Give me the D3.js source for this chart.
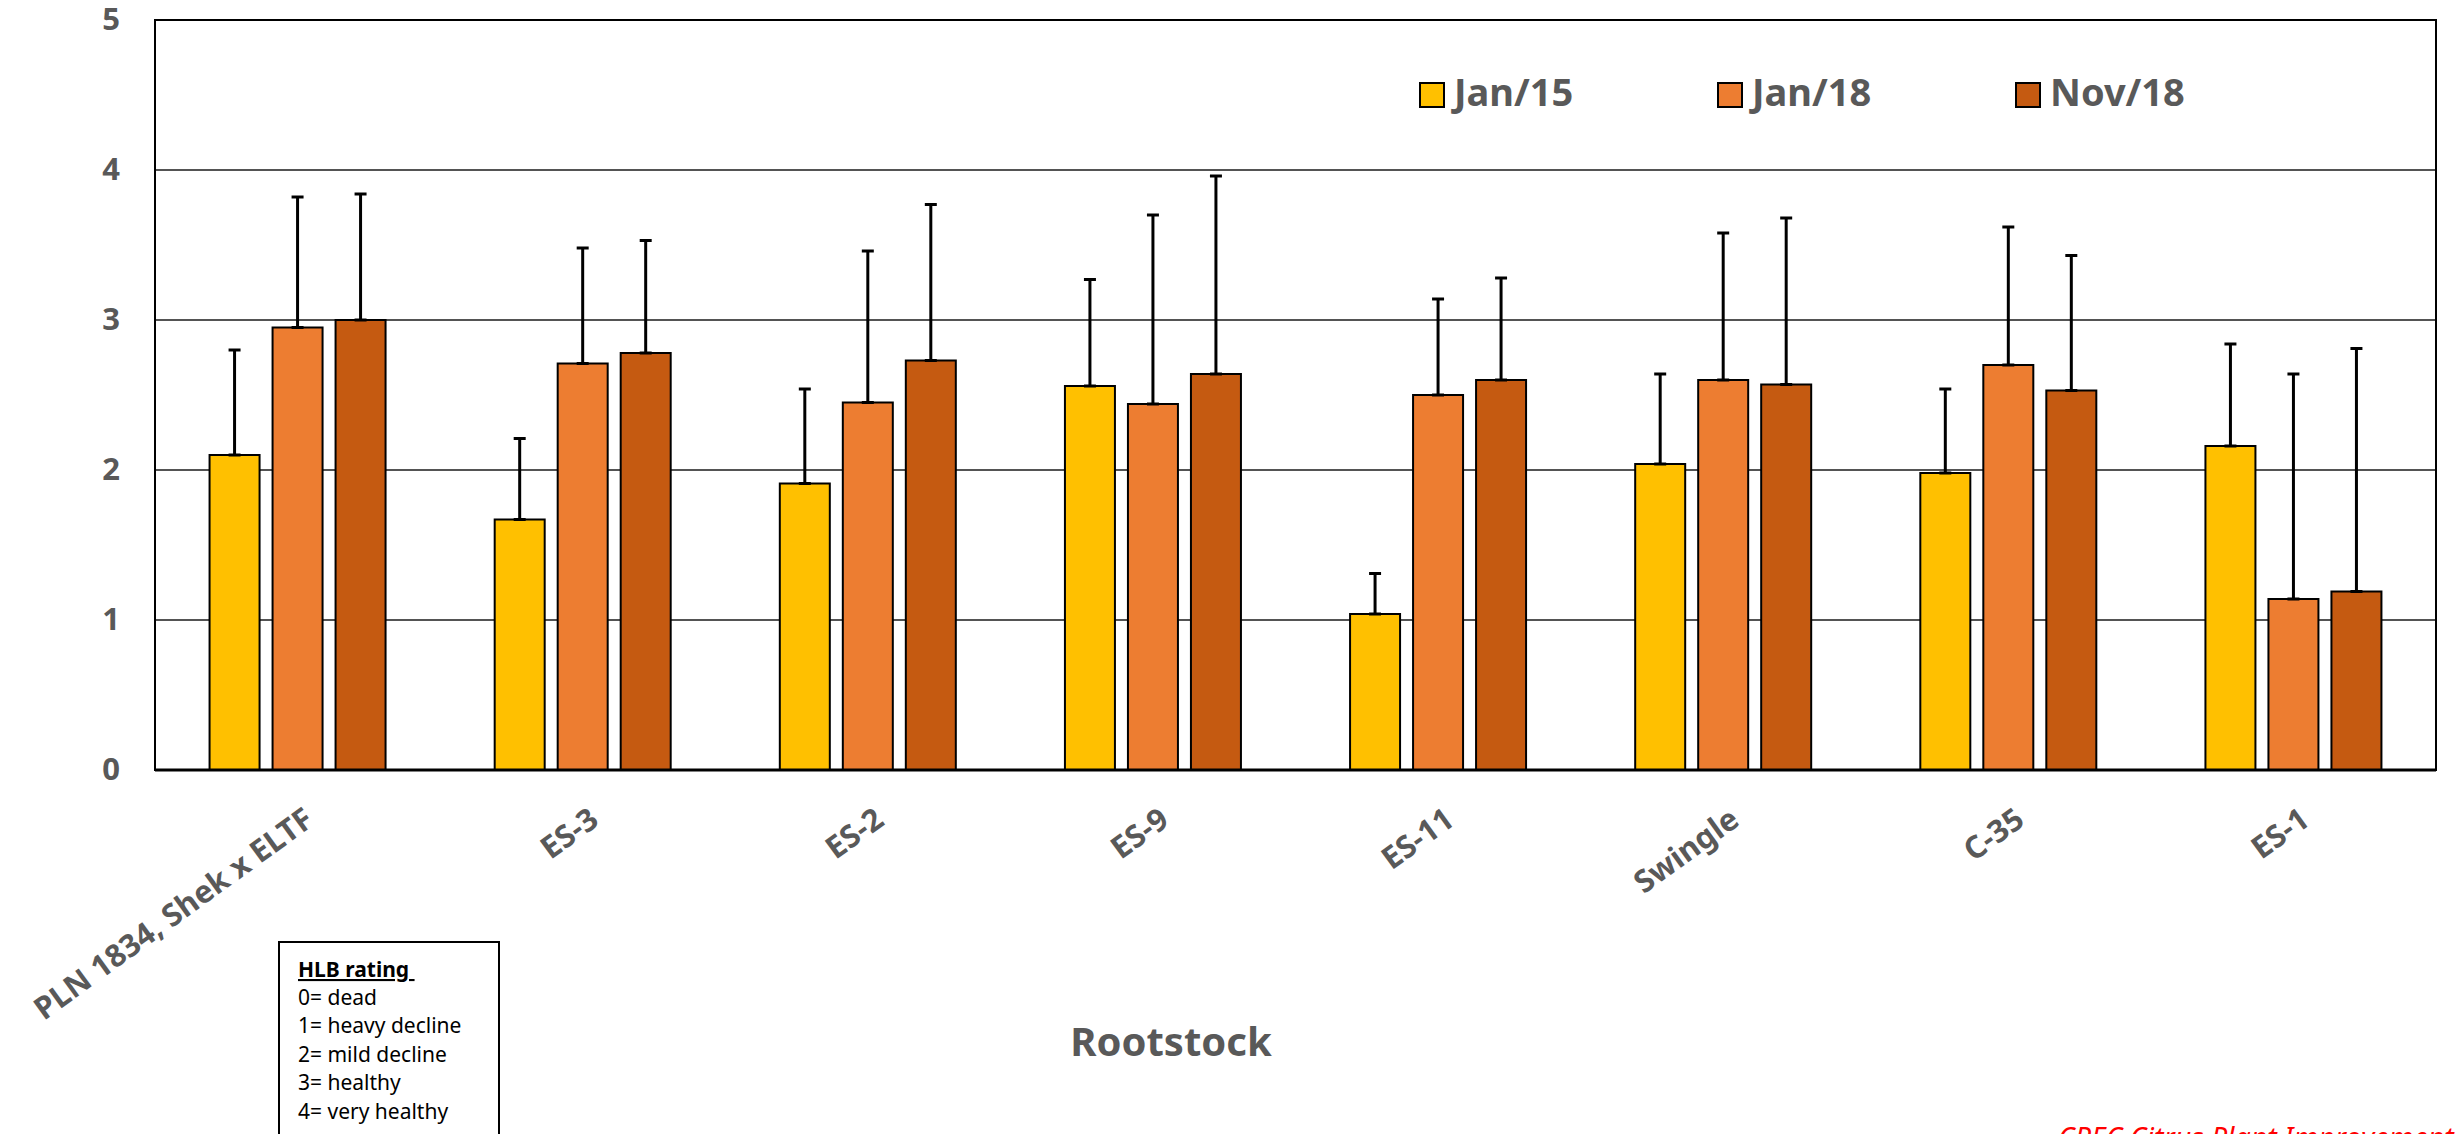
<!DOCTYPE html>
<html>
<head>
<meta charset="utf-8">
<script src="https://cdn.jsdelivr.net/npm/d3@7"></script>
<style>
  html, body { margin: 0; padding: 0; background: #fff; overflow: hidden; }
  svg { display: block; }
</style>
</head>
<body>
<script>
// ---- Data ----
const categories = ["PLN 1834, Shek x ELTF", "ES-3", "ES-2", "ES-9", "ES-11", "Swingle", "C-35", "ES-1"];
const seriesNames = ["Jan/15", "Jan/18", "Nov/18"];
const jan15 = [2.10, 1.67, 1.91, 2.56, 1.04, 2.04, 1.98, 2.16];
const jan18 = [2.95, 2.71, 2.45, 2.44, 2.50, 2.60, 2.70, 1.14];
const nov18 = [3.00, 2.78, 2.73, 2.64, 2.60, 2.57, 2.53, 1.19];
const jan15Err = [0.70, 0.54, 0.63, 0.71, 0.27, 0.60, 0.56, 0.68];
const jan18Err = [0.87, 0.77, 1.01, 1.26, 0.64, 0.98, 0.92, 1.50];
const nov18Err = [0.84, 0.75, 1.04, 1.32, 0.68, 1.11, 0.90, 1.62];
const yTicks = [0, 1, 2, 3, 4, 5];
const xTitle = "Rootstock";
const noteTitle = "HLB rating ";
const noteLines = ["0= dead", "1= heavy decline", "2= mild decline", "3= healthy", "4= very healthy"];
const footer = "CREC Citrus Plant Improvement";

const seriesValues = [jan15, jan18, nov18];
const seriesErrs = [jan15Err, jan18Err, nov18Err];
const colors = ["#FFC000", "#ED7D31", "#C55A11"];

// ---- Layout ----
const W = 2463, H = 1134;
const pLeft = 155, pRight = 2436, pTop = 20, pBottom = 770;
const gray = "#595959";
const font = "'Noto Sans', 'Open Sans', sans-serif";

const svg = d3.select("body").append("svg").attr("width", W).attr("height", H);

const x0 = d3.scaleBand().domain(categories).range([pLeft, pRight]).padding(0);
const x1 = d3.scaleBand().domain(seriesNames).range([-88, 88]).paddingInner(13 / 63).paddingOuter(0);
const y = d3.scaleLinear().domain([0, 5]).range([pBottom, pTop]);

// gridlines
svg.append("g").selectAll("line").data(yTicks.filter(d => d > 0 && d < 5)).join("line")
  .attr("x1", pLeft).attr("x2", pRight)
  .attr("y1", d => y(d)).attr("y2", d => y(d))
  .attr("stroke", "#1a1a1a").attr("stroke-width", 1.4);

// bars
const rows = [];
categories.forEach((c, i) => {
  seriesNames.forEach((s, j) => {
    rows.push({ cat: c, ser: s, j, v: seriesValues[j][i], e: seriesErrs[j][i] });
  });
});

svg.append("g").selectAll("rect").data(rows).join("rect")
  .attr("x", d => x0(d.cat) + x0.bandwidth() / 2 + x1(d.ser))
  .attr("y", d => y(d.v))
  .attr("width", x1.bandwidth())
  .attr("height", d => y(0) - y(d.v))
  .attr("fill", d => colors[d.j])
  .attr("stroke", "#000").attr("stroke-width", 2);

// error bars (upper)
const eg = svg.append("g").attr("stroke", "#000").attr("stroke-width", 3);
rows.forEach(d => {
  const cx = x0(d.cat) + x0.bandwidth() / 2 + x1(d.ser) + x1.bandwidth() / 2;
  eg.append("line").attr("x1", cx).attr("x2", cx).attr("y1", y(d.v)).attr("y2", y(d.v + d.e));
  eg.append("line").attr("x1", cx - 6).attr("x2", cx + 6).attr("y1", y(d.v + d.e)).attr("y2", y(d.v + d.e));
  eg.append("line").attr("x1", cx - 6).attr("x2", cx + 6).attr("y1", y(d.v)).attr("y2", y(d.v));
});

// plot border
svg.append("rect").attr("x", pLeft).attr("y", pTop).attr("width", pRight - pLeft).attr("height", pBottom - pTop)
  .attr("fill", "none").attr("stroke", "#000").attr("stroke-width", 2);
svg.append("line").attr("x1", pLeft).attr("x2", pRight).attr("y1", pBottom).attr("y2", pBottom)
  .attr("stroke", "#000").attr("stroke-width", 3);

// y axis labels
const yAxis = d3.axisLeft(y).tickValues(yTicks).tickSize(0).tickPadding(35).tickFormat(d3.format("d"));
const yg = svg.append("g").attr("transform", `translate(${pLeft},0)`).call(yAxis);
yg.select(".domain").remove();
yg.selectAll("text").attr("font-family", font).attr("font-weight", "bold")
  .attr("font-size", 31).attr("fill", gray);

// x axis labels (rotated)
svg.append("g").selectAll("text").data(categories).join("text")
  .attr("transform", d => `translate(${x0(d) + x0.bandwidth() / 2 + 5},${pBottom + 36}) rotate(-36)`)
  .attr("text-anchor", "end")
  .attr("dy", "0.71em")
  .attr("font-family", font).attr("font-weight", "bold").attr("font-size", 31)
  .attr("fill", gray)
  .text(d => d);

// x title
svg.append("text").attr("x", 1171).attr("y", 1056).attr("text-anchor", "middle")
  .attr("font-family", font).attr("font-weight", "bold").attr("font-size", 40).attr("fill", gray)
  .text(xTitle);

// legend
const lg = svg.append("g");
seriesNames.forEach((s, j) => {
  const lx = 1420 + j * 298;
  lg.append("rect").attr("x", lx).attr("y", 83).attr("width", 24).attr("height", 24)
    .attr("fill", colors[j]).attr("stroke", "#000").attr("stroke-width", 2);
  lg.append("text").attr("x", lx + 34).attr("y", 106)
    .attr("font-family", font).attr("font-weight", "bold").attr("font-size", 38).attr("fill", gray)
    .text(s);
});

// HLB rating note box
const nb = svg.append("g");
nb.append("rect").attr("x", 279).attr("y", 942).attr("width", 220).attr("height", 260)
  .attr("fill", "#fff").attr("stroke", "#000").attr("stroke-width", 2);
nb.append("text").attr("x", 298).attr("y", 977)
  .attr("font-family", font).attr("font-weight", "bold").attr("font-size", 21)
  .attr("text-decoration", "underline").attr("fill", "#000")
  .style("white-space", "pre")
  .text(noteTitle);
noteLines.forEach((t, i) => {
  nb.append("text").attr("x", 298).attr("y", 1005 + i * 28.4)
    .attr("font-family", font).attr("font-size", 21).attr("fill", "#000")
    .text(t);
});

// footer (cut off at the bottom, as in the reference)
svg.append("text").attr("x", 2058).attr("y", 1148)
  .attr("font-family", font).attr("font-style", "italic").attr("font-size", 28.5).attr("fill", "#FF0000")
  .text(footer);
</script>
</body>
</html>
